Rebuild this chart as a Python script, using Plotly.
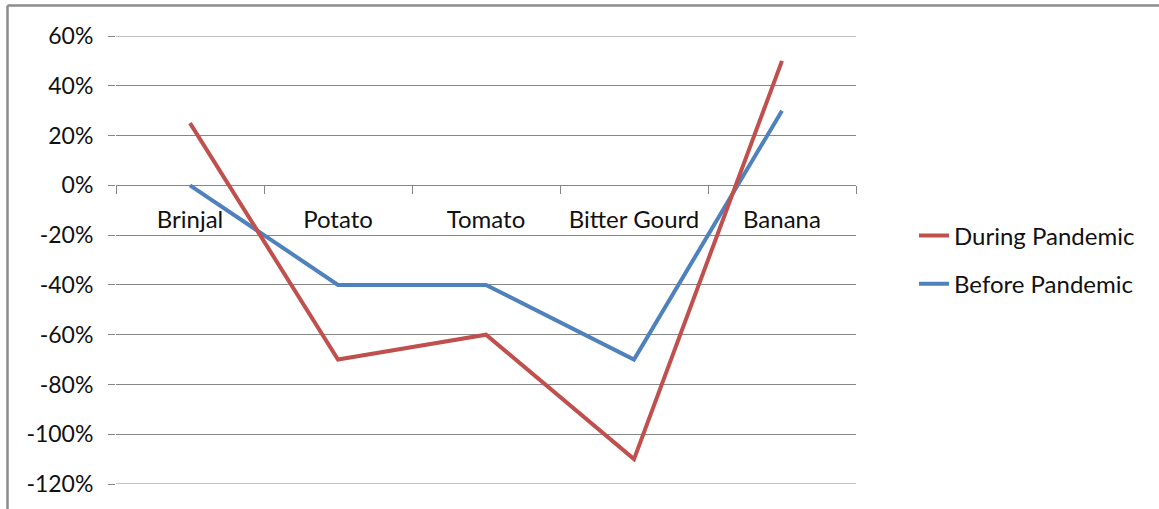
import plotly.graph_objects as go

categories = ["Brinjal", "Potato", "Tomato", "Bitter Gourd", "Banana"]
during_pandemic = [0.25, -0.70, -0.60, -1.10, 0.50]
before_pandemic = [0.00, -0.40, -0.40, -0.70, 0.30]
y_tick_values = [0.6, 0.4, 0.2, 0.0, -0.2, -0.4, -0.6, -0.8, -1.0, -1.2]
y_tick_labels = ["60%", "40%", "20%", "0%", "-20%", "-40%", "-60%", "-80%", "-100%", "-120%"]

FONT = "Lato"
GRID = "#868686"
TXT = "#111111"

fig = go.Figure()
fig.add_trace(go.Scatter(x=categories, y=during_pandemic, mode="lines", name="During Pandemic",
                         legendgroup="d", zorder=2, line=dict(color="#C0504D", width=4)))
fig.add_trace(go.Scatter(x=categories, y=before_pandemic, mode="lines", name="Before Pandemic",
                         legendgroup="b", zorder=1, line=dict(color="#4F81BD", width=4)))

L, R, T, B = 116, 303, 36, 25
W, H = 1159, 509
pw, ph = W - L - R, H - T - B
y_min, y_max = min(y_tick_values), max(y_tick_values)

fig.update_layout(
    width=W, height=H,
    margin=dict(l=L, r=R, t=T, b=B, pad=0),
    paper_bgcolor="white", plot_bgcolor="white",
    font=dict(family=FONT, size=24, color=TXT),
    showlegend=True,
    legend=dict(x=(914 - L) / pw, y=0.5, xanchor="left", yanchor="middle",
                traceorder="grouped", tracegroupgap=14,
                font=dict(family=FONT, size=24, color=TXT),
                bgcolor="rgba(0,0,0,0)"),
    xaxis=dict(
        type="category", range=[-0.5, 4.5],
        anchor="free", position=(0 - y_min) / (y_max - y_min),
        showline=True, linecolor=GRID, linewidth=1,
        ticks="outside", tickson="boundaries", ticklen=8, tickcolor=GRID,
        showgrid=False, zeroline=False,
        ticklabelstandoff=13,
        tickfont=dict(family=FONT, size=24, color=TXT),
    ),
    yaxis=dict(
        range=[y_min, y_max],
        tickvals=y_tick_values, ticktext=y_tick_labels,
        showline=True, linecolor=GRID, linewidth=1,
        ticks="outside", ticklen=7, tickcolor=GRID,
        showgrid=True, gridcolor=GRID, gridwidth=1,
        zeroline=False,
        ticklabelstandoff=10,
        tickfont=dict(family=FONT, size=23, color=TXT),
    ),
)

# gridlines at the range edges (plotly omits them)
for yv in (y_min, y_max):
    fig.add_shape(type="line", xref="paper", yref="y", x0=0, x1=1, y0=yv, y1=yv,
                  line=dict(color=GRID, width=1), layer="below")

# outer chart frame (grey), cropped on right and bottom as in the reference
fx0 = (7.5 - L) / pw
fy_top = (H - B - 5.5) / ph
fig.add_shape(type="line", xref="paper", yref="paper", x0=fx0, x1=fx0, y0=fy_top, y1=-0.2,
              line=dict(color="#8c8c8c", width=2.5))
fig.add_shape(type="line", xref="paper", yref="paper", x0=fx0, x1=1.6, y0=fy_top, y1=fy_top,
              line=dict(color="#8c8c8c", width=2.5))

fig.write_html("out.html")
